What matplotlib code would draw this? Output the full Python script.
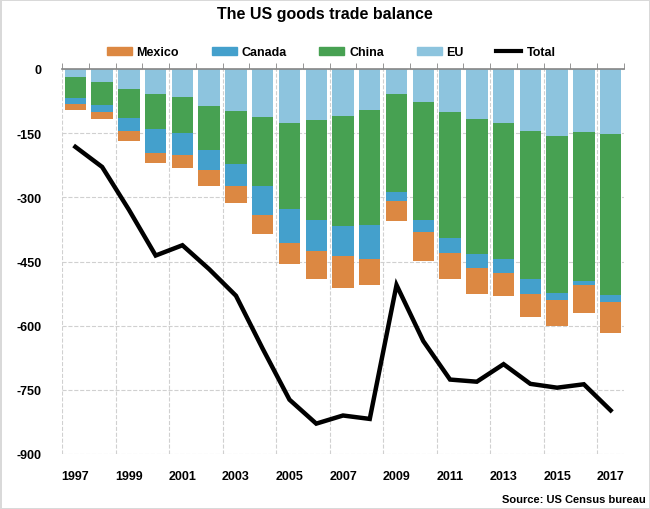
import numpy as np
import matplotlib
matplotlib.use("Agg")
import matplotlib.pyplot as plt
from matplotlib.patches import Patch
from matplotlib.lines import Line2D

plt.rcParams['font.family'] = ['Liberation Sans', 'DejaVu Sans']
plt.rcParams['font.weight'] = 'bold'
plt.rcParams['axes.unicode_minus'] = False

years = list(range(1997, 2018))
# deficits by partner, bn USD (positive numbers, drawn downward)
eu = [18, 30, 46, 58, 65, 86, 98, 112, 126, 119, 109, 95, 59, 78, 100, 116, 126, 144, 156, 147, 151]
china = [49, 55, 68, 83, 84, 103, 124, 161, 201, 234, 259, 269, 229, 275, 295, 316, 318, 346, 367, 349, 377]
canada = [14, 16, 32, 55, 52, 48, 51, 68, 79, 72, 68, 80, 21, 27, 35, 34, 33, 35, 16, 9, 16]
mexico = [16, 16, 23, 23, 30, 37, 41, 45, 49, 66, 75, 62, 47, 68, 62, 60, 53, 55, 61, 66, 72]
total = [-182, -229, -329, -436, -412, -468, -530, -654, -773, -829, -810, -818, -505,
         -636, -726, -731, -690, -736, -745, -737, -798]

c_mex = '#DC8842'
c_can = '#44A0CC'
c_chn = '#47A152'
c_eu = '#8DC4DE'

fig = plt.figure(figsize=(6.5, 5.1), dpi=100)
ax = fig.add_axes([62 / 650, 1 - 455 / 510, 562 / 650, 385 / 510])

x = np.arange(len(years))
w = 0.8
eu_a = -np.array(eu)
ch_a = -np.array(china)
ca_a = -np.array(canada)
mx_a = -np.array(mexico)

ax.bar(x, eu_a, w, color=c_eu, zorder=2)
ax.bar(x, ch_a, w, bottom=eu_a, color=c_chn, zorder=2)
ax.bar(x, ca_a, w, bottom=eu_a + ch_a, color=c_can, zorder=2)
ax.bar(x, mx_a, w, bottom=eu_a + ch_a + ca_a, color=c_mex, zorder=2)
ax.plot(x, total, color='black', lw=3.2, zorder=3, solid_joinstyle='miter')

ax.set_xlim(-0.5, len(years) - 0.5)
ax.set_ylim(-900, 0)
ax.set_yticks(np.arange(-900, 1, 150))
ax.yaxis.grid(True, color='#d0d0d0', ls='--', lw=0.8, zorder=0)
for b in np.arange(-0.5, len(years) - 1, 2):
    ax.axvline(b, color='#d0d0d0', ls='--', lw=0.8, zorder=0)

ax.set_xticks(x[::2])
ax.set_xticklabels([str(y) for y in years[::2]])
ax.set_xticks(np.arange(-0.5, len(years)), minor=True)
ax.tick_params(axis='x', which='major', bottom=False, top=False, labelsize=9, pad=8)
ax.tick_params(axis='x', which='minor', bottom=False, top=True, direction='out',
               length=4, color='#868686')
ax.tick_params(axis='y', left=False, labelsize=9, pad=11)
for s in ['left', 'right', 'bottom']:
    ax.spines[s].set_visible(False)
ax.spines['top'].set_color('#868686')
ax.spines['top'].set_linewidth(1.2)

fig.text(325 / 650, 1 - 15 / 510, 'The US goods trade balance', ha='center', va='center',
         fontsize=11.5, fontweight='bold')

handles = [Patch(color=c_mex, label='Mexico'), Patch(color=c_can, label='Canada'),
           Patch(color=c_chn, label='China'), Patch(color=c_eu, label='EU'),
           Line2D([0], [0], color='black', lw=3, label='Total')]
fig.legend(handles=handles, loc='center', bbox_to_anchor=(331 / 650, 1 - 53 / 510), ncol=5,
           frameon=False, fontsize=9, handlelength=2.0, handleheight=0.6,
           handletextpad=0.4, columnspacing=2.6)

fig.text(646 / 650, 1 - 500 / 510, 'Source: US Census bureau', ha='right', va='center',
         fontsize=8, fontweight='bold')

fig.patch.set_edgecolor('#d9d9d9')
fig.patch.set_linewidth(2)
fig.savefig('out.png', dpi=100)
